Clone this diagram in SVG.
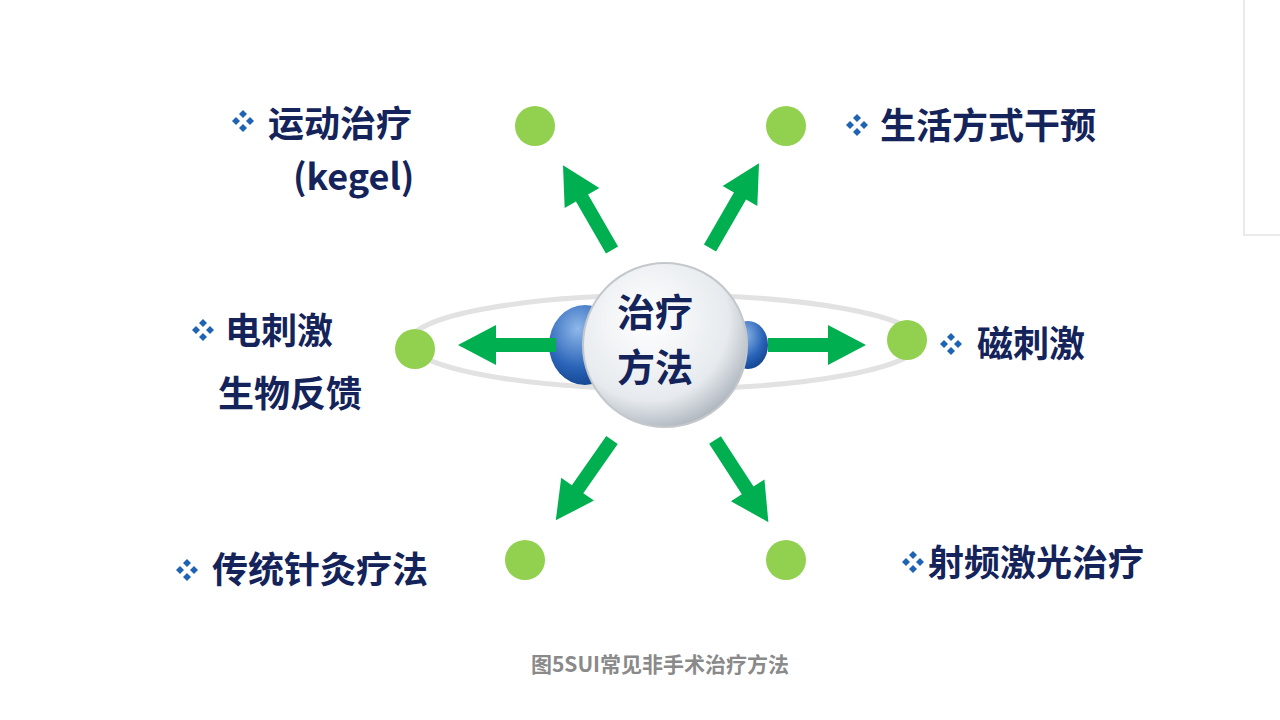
<svg xmlns="http://www.w3.org/2000/svg" width="1280" height="720" viewBox="0 0 1280 720">
<defs>
<style>
.t{font-family:"Noto Sans CJK SC","Liberation Sans",sans-serif;font-weight:bold;font-size:36px;fill:#14245a}
.dot{fill:#92d050}
.ar{fill:#00b050}
</style>
<radialGradient id="sph" cx="0.4" cy="0.35" r="0.7">
<stop offset="0" stop-color="#ffffff"/><stop offset="0.7" stop-color="#e6eaee"/><stop offset="1" stop-color="#a8b0b8"/>
</radialGradient>
<radialGradient id="blu" cx="0.4" cy="0.3" r="0.8">
<stop offset="0" stop-color="#8fb8ea"/><stop offset="0.6" stop-color="#2a64b8"/><stop offset="1" stop-color="#0d3c85"/>
</radialGradient>
<g id="b" fill="#1f63b5"><path d="M0,-11 L4,-7 L0,-3 L-4,-7Z M0,3 L4,7 L0,11 L-4,7Z M-11,0 L-7,-4 L-3,0 L-7,4Z M11,0 L7,-4 L3,0 L7,4Z"/></g>
<path id="arr" d="M0,-7 L-60,-7 L-60,-20 L-98,0 L-60,20 L-60,7 L0,7 Z"/>
</defs>
<rect width="1280" height="720" fill="#fff"/>
<path d="M1244,0 V235 H1280" fill="none" stroke="#e4e4e4" stroke-width="1.5"/>
<g id="center">
<ellipse cx="665" cy="342" rx="255" ry="47" fill="none" stroke="#e2e2e2" stroke-width="5"/>
<ellipse cx="585" cy="345" rx="36" ry="40" fill="url(#blu)"/>
<ellipse cx="748" cy="345" rx="20" ry="24" fill="url(#blu)"/>
<circle cx="665" cy="345" r="82" fill="url(#sph)" stroke="#c4c8cc" stroke-width="2"/>
<text class="t" x="655" y="326" text-anchor="middle" style="font-size:38px">治疗</text>
<text class="t" x="655" y="381" text-anchor="middle" style="font-size:38px">方法</text>
</g>
<g id="connectors">
<use href="#arr" class="ar" transform="translate(612,250) rotate(60)"/>
<use href="#arr" class="ar" transform="translate(710,248) rotate(120)"/>
<use href="#arr" class="ar" transform="translate(556,345)"/>
<use href="#arr" class="ar" transform="translate(768,345) rotate(180)"/>
<use href="#arr" class="ar" transform="translate(612,440) rotate(-55)"/>
<use href="#arr" class="ar" transform="translate(715,440) rotate(-123)"/>
</g>
<g id="n1"><circle class="dot" cx="535" cy="126" r="20"/><use href="#b" x="243" y="121"/><text class="t" x="268" y="137">运动治疗</text><text class="t" x="293" y="190">(kegel)</text></g>
<g id="n2"><circle class="dot" cx="786" cy="126" r="20"/><use href="#b" x="857" y="125"/><text class="t" x="880" y="139">生活方式干预</text></g>
<g id="n3"><circle class="dot" cx="415" cy="349" r="20"/><use href="#b" x="203" y="330"/><text class="t" x="225" y="344">电刺激</text><text class="t" x="218" y="407">生物反馈</text></g>
<g id="n4"><circle class="dot" cx="907" cy="340" r="20"/><use href="#b" x="951" y="344"/><text class="t" x="977" y="357">磁刺激</text></g>
<g id="n5"><circle class="dot" cx="525" cy="560" r="20"/><use href="#b" x="187" y="570"/><text class="t" x="212" y="583">传统针灸疗法</text></g>
<g id="n6"><circle class="dot" cx="786" cy="560" r="20"/><use href="#b" x="913" y="562"/><text class="t" x="928" y="576">射频激光治疗</text></g>
<text x="660" y="672" text-anchor="middle" font-family="Noto Sans CJK SC, Liberation Sans, sans-serif" font-weight="bold" font-size="21" fill="#8a8a8a">图5SUI常见非手术治疗方法</text>
</svg>
